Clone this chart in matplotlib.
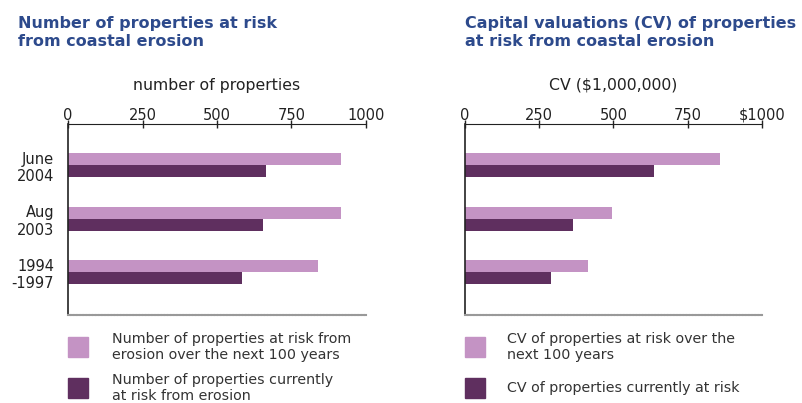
import matplotlib
matplotlib.use("Agg")
import matplotlib.pyplot as plt
from matplotlib.patches import Rectangle
import numpy as np

plt.rcParams['font.family'] = ['DejaVu Sans']

categories = ["June\n2004", "Aug\n2003", "1994\n-1997"]
props_100yr = [915, 915, 840]
props_now = [665, 655, 585]
cv_100yr = [860, 495, 415]
cv_now = [635, 365, 290]

ticks = [0, 250, 500, 750, 1000]
left_ticklabels = ["0", "250", "500", "750", "1000"]
right_ticklabels = ["0", "250", "500", "750", "$1000"]

left_title = "Number of properties at risk\nfrom coastal erosion"
right_title = "Capital valuations (CV) of properties\nat risk from coastal erosion"
left_xlabel = "number of properties"
right_xlabel = "CV ($1,000,000)"
left_legend = ["Number of properties at risk from\nerosion over the next 100 years",
               "Number of properties currently\nat risk from erosion"]
right_legend = ["CV of properties at risk over the\nnext 100 years",
                "CV of properties currently at risk"]

LIGHT = "#c493c4"
DARK = "#5f2f5f"
TITLE = "#2d4a8c"
TXT = "#333333"

W, H = 803, 403
fig = plt.figure(figsize=(W / 100, H / 100), dpi=100)


def px(x, y, w, h):
    return [x / W, 1 - (y + h) / H, w / W, h / H]


def panel(x0, width, light, dark, ticklabels, xlabel, title, legend, show_y, txt_off):
    ax = fig.add_axes(px(x0, 124, width, 191))
    y = np.arange(len(categories))
    bh = 0.224
    ax.barh(y - bh / 2, light, height=bh, color=LIGHT, edgecolor="none")
    ax.barh(y + bh / 2, dark, height=bh, color=DARK, edgecolor="none")
    ax.set_xlim(0, 1000)
    ax.set_ylim(len(categories) - 1 + 0.80, -0.77)
    ax.xaxis.tick_top()
    ax.xaxis.set_label_position("top")
    ax.set_xticks(ticks)
    ax.set_xticklabels(ticklabels, fontsize=10.5, color="#222222", va="baseline")
    ax.tick_params(axis="x", direction="inout", length=6, width=1, pad=0, colors="#222222")
    ax.set_xlabel(xlabel, fontsize=11.3, color="#222222", labelpad=13)
    ax.set_yticks(y)
    if show_y:
        ax.set_yticklabels(categories, fontsize=10.5, color="#222222", ha="right")
    else:
        ax.set_yticklabels([])
    ax.tick_params(axis="y", length=0, pad=10)
    ax.spines["right"].set_visible(False)
    ax.spines["top"].set_color("#222222")
    ax.spines["left"].set_color("#222222")
    ax.spines["left"].set_linewidth(1.2)
    ax.spines["bottom"].set_color("#999999")
    ax.spines["bottom"].set_linewidth(1.5)
    ax.spines["bottom"].set_linestyle((0, (1, 0.5)))
    # legend
    for i, (lab, col) in enumerate(zip(legend, [LIGHT, DARK])):
        cy = 347 + 41 * i
        fig.patches.append(Rectangle((x0 / W, 1 - (cy + 10) / H), 20 / W, 20 / H,
                                     transform=fig.transFigure, color=col))
        fig.text((x0 + txt_off) / W, 1 - cy / H, lab, fontsize=10.3, color=TXT,
                 va="center", ha="left", linespacing=1.18)
    fig.text(title[1] / W, 1 - 16 / H, title[0], fontsize=11.5, fontweight="bold",
             color=TITLE, va="top", ha="left", linespacing=1.22)
    return ax


panel(68, 298, props_100yr, props_now, left_ticklabels, left_xlabel, (left_title, 18), left_legend, True, 44)
panel(465, 297, cv_100yr, cv_now, right_ticklabels, right_xlabel, (right_title, 465), right_legend, False, 42)

fig.savefig("out.png", dpi=100)
